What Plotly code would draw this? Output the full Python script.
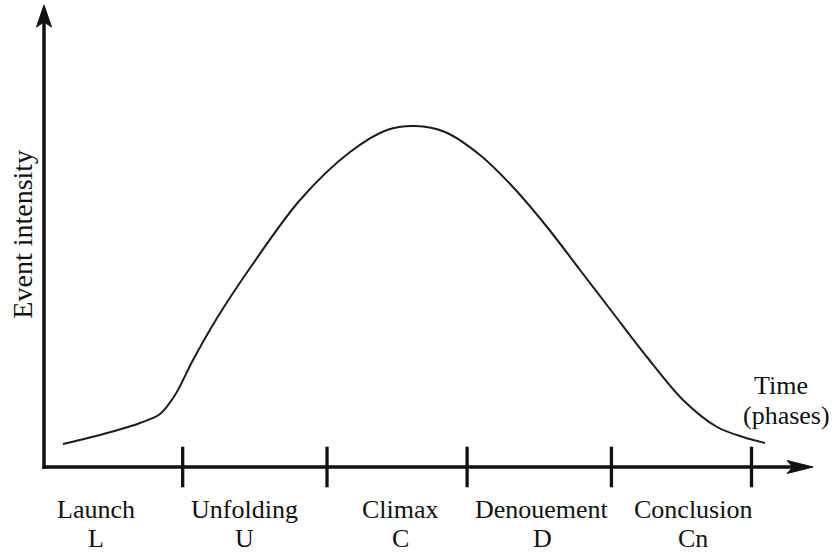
import plotly.graph_objects as go

# Curve (time in phase units, event intensity in arbitrary units)
time_vals = [0.134, 0.445, 0.678, 0.820, 0.926, 1.053, 1.223, 1.456, 1.809, 2.163,
             2.424, 2.622, 2.834, 3.081, 3.314, 3.555, 3.788, 4.021, 4.261, 4.516,
             4.756, 4.940, 5.095]
intensity_vals = [0.23, 0.34, 0.44, 0.53, 0.72, 1.07, 1.49, 1.99, 2.67, 3.15,
                  3.37, 3.41, 3.35, 3.12, 2.80, 2.40, 1.97, 1.54, 1.10, 0.67,
                  0.40, 0.30, 0.24]

# Phase boundaries (tick marks) and phase labels
phase_ticks = [0.98, 2.0, 2.99, 4.01, 5.0]
phase_names = ["Launch", "Unfolding", "Climax", "Denouement", "Conclusion"]
phase_codes = ["L", "U", "C", "D", "Cn"]
phase_label_x = [0.368, 1.414, 2.516, 3.52, 4.587]

X_RANGE = [-0.311, 5.590]
Y_RANGE = [-0.89, 4.67]
FONT = "Liberation Serif, Times New Roman, serif"
INK = "#111111"

fig = go.Figure()

fig.add_trace(go.Scatter(
    x=time_vals, y=intensity_vals, mode="lines",
    line=dict(color="#1c1c1c", width=2, shape="spline", smoothing=0.9),
    hoverinfo="skip", showlegend=False,
))

fig.add_trace(go.Scatter(
    x=phase_ticks, y=[0] * len(phase_ticks), mode="markers",
    marker=dict(symbol="line-ns", size=29, line=dict(color=INK, width=3.3)),
    hoverinfo="skip", showlegend=False, cliponaxis=False,
))

shapes = [
    # x axis
    dict(type="line", xref="x", yref="y", x0=-0.012, y0=0, x1=5.29, y1=0,
         line=dict(color=INK, width=3.5)),
    dict(type="path", xref="x", yref="y",
         path="M 5.435,0 L 5.251,0.065 L 5.293,0 L 5.251,-0.065 Z",
         fillcolor=INK, line=dict(color=INK, width=1)),
    # y axis
    dict(type="line", xref="x", yref="y", x0=0, y0=-0.017, x1=0, y1=4.45,
         line=dict(color=INK, width=3.5)),
    dict(type="path", xref="x", yref="y",
         path="M 0,4.62 L 0.053,4.40 L 0,4.45 L -0.053,4.40 Z",
         fillcolor=INK, line=dict(color=INK, width=1)),
]

annotations = []
for name, code, xc in zip(phase_names, phase_codes, phase_label_x):
    annotations.append(dict(x=xc, y=-0.42, xref="x", yref="y", text=name,
                            showarrow=False, xanchor="center", yanchor="middle",
                            font=dict(family=FONT, size=26, color=INK)))
    annotations.append(dict(x=xc, y=-0.71, xref="x", yref="y", text=code,
                            showarrow=False, xanchor="center", yanchor="middle",
                            font=dict(family=FONT, size=26, color=INK)))

annotations += [
    dict(x=5.208, y=0.82, xref="x", yref="y", text="Time", showarrow=False,
         xanchor="center", yanchor="middle", font=dict(family=FONT, size=26, color=INK)),
    dict(x=5.244, y=0.52, xref="x", yref="y", text="(phases)", showarrow=False,
         xanchor="center", yanchor="middle", font=dict(family=FONT, size=26, color=INK)),
    dict(x=-0.158, y=2.33, xref="x", yref="y", text="Event intensity", showarrow=False,
         textangle=-90, xanchor="center", yanchor="middle",
         font=dict(family=FONT, size=28, color=INK)),
]

fig.update_layout(
    width=835, height=556,
    margin=dict(l=0, r=0, t=0, b=0, pad=0),
    paper_bgcolor="white", plot_bgcolor="white",
    xaxis=dict(range=X_RANGE, visible=False, fixedrange=True),
    yaxis=dict(range=Y_RANGE, visible=False, fixedrange=True),
    shapes=shapes, annotations=annotations,
    showlegend=False,
)

fig.write_html(
    "out.html",
    config={"displayModeBar": False},
    post_script="document.body.style.margin='0';document.body.style.overflow='hidden';",
)
